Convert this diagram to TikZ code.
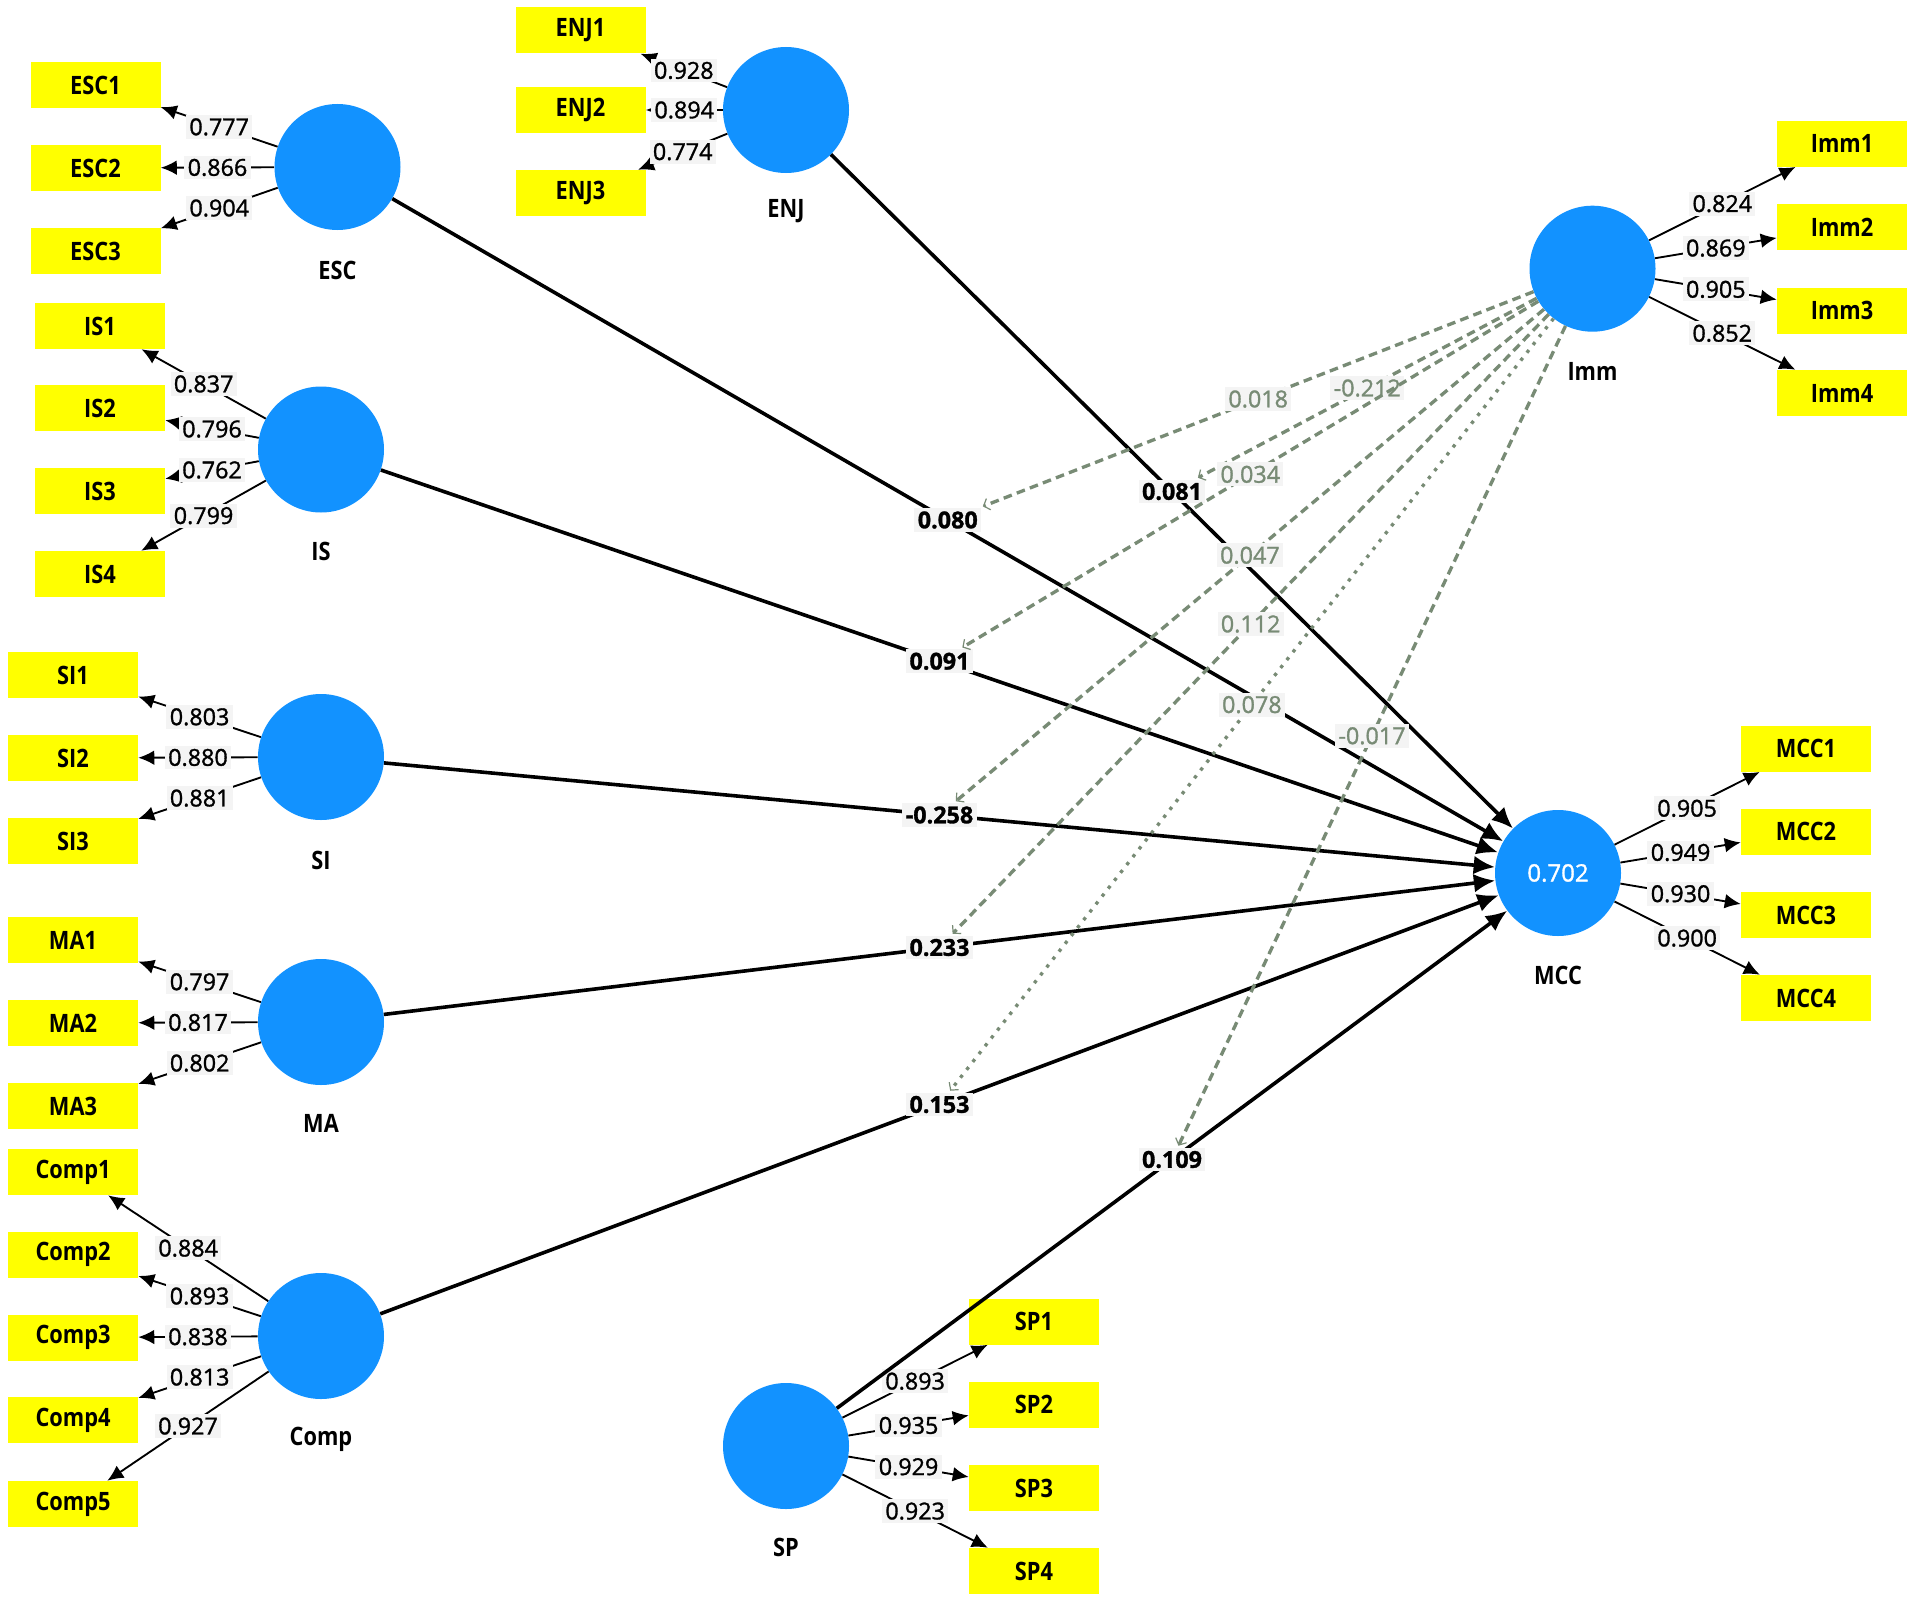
\documentclass[tikz,border=0pt]{standalone}
\usepackage{fontspec}
\usetikzlibrary{arrows.meta}
\newfontfamily\plsnamefam{Open Sans}[FakeStretch=0.86]
\newfontfamily\plsnumfam{Open Sans}[FakeBold=1.3]
\newcommand\plsname{\plsnamefam\bfseries\fontsize{19}{22}\selectfont}
\newcommand\plsnum{\plsnumfam\fontsize{17.5}{20}\selectfont}
\definecolor{plsblue}{RGB}{18,146,255}
\definecolor{plsyellow}{RGB}{255,255,0}
\definecolor{labbg}{RGB}{244,244,244}
\definecolor{modgreen}{RGB}{120,139,117}
\tikzset{
  lv/.style={circle, fill=plsblue, minimum size=94.5pt, inner sep=0pt},
  mv/.style={rectangle, fill=plsyellow, minimum width=97.5pt, minimum height=34.5pt, inner sep=0pt, font=\plsname},
  lvname/.style={font=\plsname},
  ld/.style={draw, line width=1.4pt, -{Latex[length=12pt,width=11pt]}},
  ldlab/.style={fill=labbg, inner xsep=2.5pt, inner ysep=2.5pt, font=\plsnum, text=black},
  strpath/.style={draw, line width=2.7pt, -{Latex[length=16pt,width=14pt]}},
  pathlab/.style={fill=labbg, inner sep=2.5pt, font=\plsnum\bfseries, text=black},
  modline/.style={draw=modgreen, line width=2.5pt, dash pattern=on 6.5pt off 4pt, -{Straight Barb[length=4pt,width=9pt,line width=0.9pt]}},
  moddot/.style={modline, dash pattern=on 2.5pt off 5pt},
  modlab/.style={fill=labbg, inner sep=2.5pt, font=\plsnum, text=modgreen},
}
\begin{document}
\begin{tikzpicture}[x=0.75pt,y=-0.75pt]
\fill[white] (0,0) rectangle (1914,1602);
\useasboundingbox (0,0) rectangle (1914,1602);

% latent variables
\node[lv] (ESC) at (337.5,167) {};
\node[lv] (ENJ) at (786,110) {};
\node[lv] (IS) at (321,449.5) {};
\node[lv] (SI) at (321,757) {};
\node[lv] (MA) at (321,1022) {};
\node[lv] (Comp) at (321,1336) {};
\node[lv] (SP) at (786,1446) {};
\node[lv] (Imm) at (1592.5,268.7) {};
\node[lv, font=\plsnum\fontsize{18}{20}\selectfont, text=white] (MCC) at (1558,873) {0.702};

% names
\node[lvname] (ESCn) at (337.5,270) {ESC};
\node[lvname] (ENJn) at (786,211) {ENJ};
\node[lvname] (ISn) at (321,551) {IS};
\node[lvname] (SIn) at (321,860) {SI};
\node[lvname] (MAn) at (321,1123) {MA};
\node[lvname] (Compn) at (321,1439) {Comp};
\node[lvname] (SPn) at (786,1547) {SP};
\node[lvname] (Immn) at (1592.5,371) {Imm};
\node[lvname] (MCCn) at (1558,975) {MCC};

% indicators
\node[mv] (ESC1) at (95.5,85) {ESC1};
\node[mv] (ESC2) at (95.5,168) {ESC2};
\node[mv] (ESC3) at (95.5,251) {ESC3};
\node[mv] (ENJ1) at (580.5,30.5) {ENJ1};
\node[mv] (ENJ2) at (580.5,110) {ENJ2};
\node[mv] (ENJ3) at (580.5,193) {ENJ3};
\node[mv] (IS1) at (100,326) {IS1};
\node[mv] (IS2) at (100,408) {IS2};
\node[mv] (IS3) at (100,491) {IS3};
\node[mv] (IS4) at (100,574) {IS4};
\node[mv] (SI1) at (73,675) {SI1};
\node[mv] (SI2) at (73,758) {SI2};
\node[mv] (SI3) at (73,841) {SI3};
\node[mv] (MA1) at (73,940) {MA1};
\node[mv] (MA2) at (73,1023) {MA2};
\node[mv] (MA3) at (73,1106) {MA3};
\node[mv] (Comp1) at (73,1172) {Comp1};
\node[mv] (Comp2) at (73,1254.5) {Comp2};
\node[mv] (Comp3) at (73,1337.5) {Comp3};
\node[mv] (Comp4) at (73,1420) {Comp4};
\node[mv] (Comp5) at (73,1504) {Comp5};
\node[mv] (SP1) at (1034,1321.5) {SP1};
\node[mv] (SP2) at (1034,1404.5) {SP2};
\node[mv] (SP3) at (1034,1488) {SP3};
\node[mv] (SP4) at (1034,1571) {SP4};
\node[mv] (Imm1) at (1842,143.7) {Imm1};
\node[mv] (Imm2) at (1842,227) {Imm2};
\node[mv] (Imm3) at (1842,310.5) {Imm3};
\node[mv] (Imm4) at (1842,393) {Imm4};
\node[mv] (MCC1) at (1806,748.7) {MCC1};
\node[mv] (MCC2) at (1806,831.5) {MCC2};
\node[mv] (MCC3) at (1806,915) {MCC3};
\node[mv] (MCC4) at (1806,998) {MCC4};

% loadings
\draw[ld] (ESC) -- node[ldlab]{0.777} (ESC1);
\draw[ld] (ESC) -- node[ldlab]{0.866} (ESC2);
\draw[ld] (ESC) -- node[ldlab]{0.904} (ESC3);
\draw[ld] (ENJ) -- node[ldlab]{0.928} (ENJ1);
\draw[ld] (ENJ) -- node[ldlab]{0.894} (ENJ2);
\draw[ld] (ENJ) -- node[ldlab]{0.774} (ENJ3);
\draw[ld] (IS) -- node[ldlab]{0.837} (IS1);
\draw[ld] (IS) -- node[ldlab]{0.796} (IS2);
\draw[ld] (IS) -- node[ldlab]{0.762} (IS3);
\draw[ld] (IS) -- node[ldlab]{0.799} (IS4);
\draw[ld] (SI) -- node[ldlab]{0.803} (SI1);
\draw[ld] (SI) -- node[ldlab]{0.880} (SI2);
\draw[ld] (SI) -- node[ldlab]{0.881} (SI3);
\draw[ld] (MA) -- node[ldlab]{0.797} (MA1);
\draw[ld] (MA) -- node[ldlab]{0.817} (MA2);
\draw[ld] (MA) -- node[ldlab]{0.802} (MA3);
\draw[ld] (Comp) -- node[ldlab]{0.884} (Comp1);
\draw[ld] (Comp) -- node[ldlab]{0.893} (Comp2);
\draw[ld] (Comp) -- node[ldlab]{0.838} (Comp3);
\draw[ld] (Comp) -- node[ldlab]{0.813} (Comp4);
\draw[ld] (Comp) -- node[ldlab]{0.927} (Comp5);
\draw[ld] (SP) -- node[ldlab]{0.893} (SP1);
\draw[ld] (SP) -- node[ldlab]{0.935} (SP2);
\draw[ld] (SP) -- node[ldlab]{0.929} (SP3);
\draw[ld] (SP) -- node[ldlab]{0.923} (SP4);
\draw[ld] (Imm) -- node[ldlab]{0.824} (Imm1);
\draw[ld] (Imm) -- node[ldlab]{0.869} (Imm2);
\draw[ld] (Imm) -- node[ldlab]{0.905} (Imm3);
\draw[ld] (Imm) -- node[ldlab]{0.852} (Imm4);
\draw[ld] (MCC) -- node[ldlab]{0.905} (MCC1);
\draw[ld] (MCC) -- node[ldlab]{0.949} (MCC2);
\draw[ld] (MCC) -- node[ldlab]{0.930} (MCC3);
\draw[ld] (MCC) -- node[ldlab]{0.900} (MCC4);

% structural paths
\draw[strpath] (ESC) -- node[pathlab] (pESC) {0.080} (MCC);
\draw[strpath] (ENJ) -- node[pathlab] (pENJ) {0.081} (MCC);
\draw[strpath] (IS) -- node[pathlab] (pIS) {0.091} (MCC);
\draw[strpath] (SI) -- node[pathlab] (pSI) {-0.258} (MCC);
\draw[strpath] (MA) -- node[pathlab] (pMA) {0.233} (MCC);
\draw[strpath] (Comp) -- node[pathlab] (pComp) {0.153} (MCC);
\draw[strpath] (SP) -- node[pathlab] (pSP) {0.109} (MCC);

% moderating effects
\draw[modline] (Imm) -- node[modlab] (mESC) {0.018} (pESC);
\draw[modline] (Imm) -- node[modlab] (mENJ) {-0.212} (pENJ);
\draw[modline] (Imm) -- node[modlab] (mIS) {0.034} (pIS);
\draw[modline] (Imm) -- node[modlab] (mSI) {0.047} (pSI);
\draw[modline] (Imm) -- node[modlab] (mMA) {0.112} (pMA);
\draw[moddot] (Imm) -- node[modlab] (mComp) {0.078} (pComp);
\draw[modline] (Imm) -- node[modlab] (mSP) {-0.017} (pSP);
\end{tikzpicture}
\end{document}
